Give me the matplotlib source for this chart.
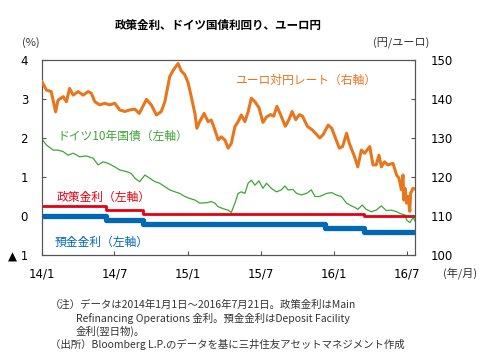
import numpy as np
import pandas as pd
import matplotlib
matplotlib.use("Agg")
import matplotlib.pyplot as plt
import matplotlib.dates as mdates

plt.rcParams['font.family'] = ['Noto Sans CJK JP', 'DejaVu Sans']

# ユーロ対円レート（右軸）
fx_dates = [
    "2014-01-01", "2014-01-12", "2014-01-24", "2014-02-04", "2014-02-10", "2014-02-23",
    "2014-03-03", "2014-03-11", "2014-03-20", "2014-04-01", "2014-04-14", "2014-04-26",
    "2014-05-04", "2014-05-13", "2014-05-25", "2014-06-07", "2014-06-19", "2014-07-02",
    "2014-07-14", "2014-07-27", "2014-08-08", "2014-08-21", "2014-09-01", "2014-09-19",
    "2014-10-01", "2014-10-14", "2014-10-26", "2014-11-04", "2014-11-16", "2014-11-25",
    "2014-12-07", "2014-12-15", "2014-12-24", "2015-01-01", "2015-01-09", "2015-01-18",
    "2015-01-23", "2015-01-30", "2015-02-10", "2015-02-20", "2015-02-28", "2015-03-09",
    "2015-03-17", "2015-03-25", "2015-04-03", "2015-04-11", "2015-04-19", "2015-04-28",
    "2015-05-06", "2015-05-14", "2015-05-23", "2015-05-31", "2015-06-08", "2015-06-17",
    "2015-06-27", "2015-07-07", "2015-07-16", "2015-07-26", "2015-08-03", "2015-08-11",
    "2015-08-20", "2015-09-01", "2015-09-10", "2015-09-18", "2015-09-27", "2015-10-06",
    "2015-10-14", "2015-10-26", "2015-11-07", "2015-11-19", "2015-11-26", "2015-12-04",
    "2015-12-17", "2015-12-26", "2016-01-06", "2016-01-14", "2016-01-22", "2016-02-01",
    "2016-02-08", "2016-02-21", "2016-02-29", "2016-03-09", "2016-03-17", "2016-03-30",
    "2016-04-07", "2016-04-15", "2016-04-22", "2016-04-28", "2016-05-06", "2016-05-14",
    "2016-05-27", "2016-06-05", "2016-06-11", "2016-06-17", "2016-06-21", "2016-06-23",
    "2016-06-26", "2016-06-30", "2016-07-04", "2016-07-08", "2016-07-10", "2016-07-16",
    "2016-07-21",
]
fx_values = [
    144.4, 142.3, 141.9, 136.7, 139.7, 140.6,
    139.3, 142.7, 141.0, 141.9, 141.0, 141.9,
    141.5, 139.3, 138.5, 138.9, 138.5, 138.9,
    137.2, 136.8, 137.2, 137.4, 136.3, 139.9,
    138.5, 135.9, 136.8, 139.3, 145.7, 147.4,
    149.1, 147.2, 146.2, 144.2, 140.6, 136.3,
    132.5, 134.2, 136.3, 134.2, 134.6, 132.1,
    129.5, 130.3, 129.5, 127.4, 128.6, 132.9,
    134.2, 135.9, 134.2, 136.7, 140.2, 139.3,
    137.8, 134.0, 135.4, 136.0, 135.6, 138.1,
    136.0, 133.0, 134.7, 136.8, 134.7, 136.0,
    135.6, 133.0, 132.1, 130.8, 130.0, 130.8,
    133.3, 132.5, 129.5, 127.4, 127.8, 131.2,
    128.6, 125.2, 122.6, 126.9, 126.1, 127.8,
    123.1, 123.1, 125.6, 122.6, 123.9, 123.1,
    123.5, 120.5, 119.7, 116.7, 120.5, 114.1,
    117.1, 113.3, 115.0, 111.2, 115.8, 117.1,
    116.9,
]

# ドイツ10年国債（左軸）
bund_dates = [
    "2014-01-01", "2014-01-12", "2014-01-29", "2014-02-10", "2014-02-23", "2014-03-07",
    "2014-03-20", "2014-04-05", "2014-04-22", "2014-05-09", "2014-05-21", "2014-06-03",
    "2014-06-15", "2014-07-02", "2014-07-14", "2014-07-31", "2014-08-12", "2014-08-21",
    "2014-09-02", "2014-09-15", "2014-09-27", "2014-10-10", "2014-10-22", "2014-11-04",
    "2014-11-16", "2014-11-29", "2014-12-11", "2014-12-24", "2015-01-05", "2015-01-18",
    "2015-01-30", "2015-02-16", "2015-02-28", "2015-03-09", "2015-03-17", "2015-03-29",
    "2015-04-11", "2015-04-19", "2015-04-28", "2015-05-06", "2015-05-14", "2015-05-23",
    "2015-05-31", "2015-06-08", "2015-06-17", "2015-06-27", "2015-07-07", "2015-07-16",
    "2015-07-28", "2015-08-10", "2015-08-22", "2015-08-31", "2015-09-08", "2015-09-20",
    "2015-09-29", "2015-10-11", "2015-10-24", "2015-11-05", "2015-11-14", "2015-11-26",
    "2015-12-13", "2015-12-26", "2016-01-06", "2016-01-19", "2016-02-01", "2016-02-13",
    "2016-02-22", "2016-02-29", "2016-03-11", "2016-03-21", "2016-04-03", "2016-04-15",
    "2016-04-28", "2016-05-10", "2016-05-23", "2016-06-05", "2016-06-17", "2016-06-26",
    "2016-06-30", "2016-07-08", "2016-07-14", "2016-07-16", "2016-07-21",
]
bund_values = [
    1.97, 1.82, 1.69, 1.69, 1.65, 1.56,
    1.61, 1.52, 1.54, 1.48, 1.31, 1.39,
    1.35, 1.26, 1.18, 1.14, 1.09, 0.97,
    0.88, 1.05, 0.97, 0.88, 0.84, 0.75,
    0.67, 0.62, 0.58, 0.50, 0.45, 0.41,
    0.33, 0.34, 0.37, 0.33, 0.24, 0.19,
    0.15, 0.09, 0.33, 0.58, 0.62, 0.58,
    0.84, 0.92, 0.79, 0.90, 0.71, 0.84,
    0.71, 0.62, 0.67, 0.77, 0.67, 0.68,
    0.58, 0.54, 0.58, 0.67, 0.50, 0.50,
    0.58, 0.60, 0.54, 0.50, 0.33, 0.26,
    0.22, 0.17, 0.28, 0.17, 0.11, 0.15,
    0.26, 0.14, 0.15, 0.11, 0.05, 0.03,
    -0.10, -0.17, -0.08, -0.02, -0.13,
]

# 政策金利・預金金利（左軸）
mro_dates = ["2014-01-01", "2014-06-11", "2014-09-10", "2016-03-16", "2016-07-21"]
mro_values = [0.25, 0.15, 0.05, 0.00, 0.00]
dep_dates = ["2014-01-01", "2014-06-11", "2014-09-10", "2015-12-09", "2016-03-16", "2016-07-21"]
dep_values = [0.00, -0.10, -0.20, -0.30, -0.40, -0.40]

x_ticks = ["2014-01-01", "2014-07-01", "2015-01-01", "2015-07-01", "2016-01-01", "2016-07-01"]
x_tick_labels = ["14/1", "14/7", "15/1", "15/7", "16/1", "16/7"]
left_ticks = [-1, 0, 1, 2, 3, 4]
left_tick_labels = ["▲ 1", "0", "1", "2", "3", "4"]
right_ticks = [100, 110, 120, 130, 140, 150]

c_fx = "#E8761C"
c_bund = "#3FA535"
c_mro = "#E60012"
c_dep = "#0068B7"

W, H = 492, 359
fig = plt.figure(figsize=(W / 100, H / 100), dpi=100)
ax = fig.add_axes([42 / W, 1 - 255 / H, (415 - 42) / W, (255 - 60) / H])
ax2 = ax.twinx()

ax.plot(pd.to_datetime(bund_dates), bund_values, color=c_bund, lw=0.9, zorder=3)
ax.step(pd.to_datetime(mro_dates), mro_values, where="post", color=c_mro, lw=2.0, zorder=4)
ax.step(pd.to_datetime(dep_dates), dep_values, where="post", color=c_dep, lw=3.8, zorder=4)
ax2.plot(pd.to_datetime(fx_dates), fx_values, color=c_fx, lw=2.2, zorder=3)

ax.set_xlim(pd.Timestamp("2014-01-01"), pd.Timestamp("2016-07-21"))
ax.set_ylim(-1, 4)
ax2.set_ylim(100, 150)

ax.set_xticks(pd.to_datetime(x_ticks))
ax.set_xticklabels(x_tick_labels, family="DejaVu Sans", fontsize=8.5)
ax.set_yticks(left_ticks)
ax.set_yticklabels(left_tick_labels, family="DejaVu Sans", fontsize=8.5)
ax2.set_yticks(right_ticks)
ax2.set_yticklabels([str(v) for v in right_ticks], family="DejaVu Sans", fontsize=8.5)

ax.tick_params(axis="x", direction="in", length=3, pad=9, color="#555555")
ax.tick_params(axis="y", direction="in", length=3, pad=10, color="#555555")
ax2.tick_params(axis="y", direction="in", length=3, pad=11, color="#555555")
for a in (ax, ax2):
    for s in a.spines.values():
        s.set_color("#555555")
        s.set_linewidth(0.8)

def ft(x, y, s, **kw):
    fig.text(x / W, 1 - y / H, s, va="center", **kw)

ft(218, 25, "政策金利、ドイツ国債利回り、ユーロ円", ha="center", fontsize=8.3, fontweight="bold")
ft(22, 43, "(%)", fontsize=8, color="#333333")
ft(373, 43, "(円/ユーロ)", fontsize=8, color="#333333")
ft(443, 273, "(年/月)", fontsize=8, color="#333333")

ft(235, 80, "ユーロ対円レート（右軸）", fontsize=8.5, color=c_fx)
ft(57, 136, "ドイツ10年国債（左軸）", fontsize=8.5, color=c_bund)
ft(57, 197, "政策金利（左軸）", fontsize=8.5, color=c_mro)
ft(55, 242, "預金金利（左軸）", fontsize=8.5, color=c_dep)

note_kw = dict(fontsize=7.5, color="#333333")
ft(50, 305, "（注）データは2014年1月1日～2016年7月21日。政策金利はMain", **note_kw)
ft(76, 318, "Refinancing Operations 金利。預金金利はDeposit Facility", **note_kw)
ft(76, 331, "金利(翌日物)。", **note_kw)
ft(50, 344, "（出所）Bloomberg L.P.のデータを基に三井住友アセットマネジメント作成", **note_kw)

fig.savefig("out.png", dpi=100)
